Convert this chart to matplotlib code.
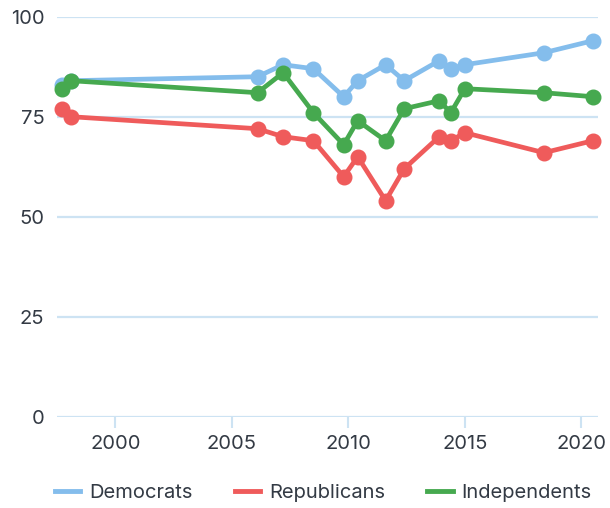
import matplotlib.pyplot as plt
from matplotlib.lines import Line2D

# survey dates (fractional years) and share per party
years = [1997.7, 1998.1, 2006.1, 2007.2, 2008.5, 2009.8, 2010.4,
         2011.6, 2012.4, 2013.9, 2014.4, 2015.0, 2018.4, 2020.5]
democrats = [83, 84, 85, 88, 87, 80, 84, 88, 84, 89, 87, 88, 91, 94]
republicans = [77, 75, 72, 70, 69, 60, 65, 54, 62, 70, 69, 71, 66, 69]
independents = [82, 84, 81, 86, 76, 68, 74, 69, 77, 79, 76, 82, 81, 80]

series = [
    ('Democrats', democrats, '#84bdec'),
    ('Republicans', republicans, '#ef5b5b'),
    ('Independents', independents, '#46a94f'),
]

plt.rcParams['font.family'] = ['Inter', 'DejaVu Sans']
text_color = '#333a44'
grid_color = '#cde3f3'
fs = 14.5

fig = plt.figure(figsize=(6.1, 5.08), dpi=100)
ax = fig.add_axes([0.0934, 0.1797, 0.8866, 0.7874])

for name, vals, color in series:
    ax.plot(years, vals, color=color, lw=3.4, marker='o', markersize=10.5,
            label=name, clip_on=False, zorder=3)

ax.set_xlim(1997.49, 2020.71)
ax.set_ylim(0, 100)
ax.set_yticks([0, 25, 50, 75, 100])
ax.set_xticks([2000, 2005, 2010, 2015, 2020])

ax.grid(axis='y', color=grid_color, lw=1.6)
ax.set_axisbelow(True)
for s in ax.spines.values():
    s.set_visible(False)

ax.tick_params(axis='y', length=0, pad=9, labelsize=fs, labelcolor=text_color)
ax.tick_params(axis='x', length=8, width=1.5, color=grid_color, direction='out',
               pad=5, labelsize=fs, labelcolor=text_color)

handles = [Line2D([], [], color=c, lw=3.5) for _, _, c in series]
fig.legend(handles, [n for n, _, _ in series], loc='center',
           bbox_to_anchor=(0.53, 0.03), ncol=3, frameon=False,
           fontsize=fs, labelcolor=text_color, handlelength=1.25,
           handletextpad=0.45, columnspacing=2.1)

fig.savefig('out.png', dpi=100, facecolor='white')
